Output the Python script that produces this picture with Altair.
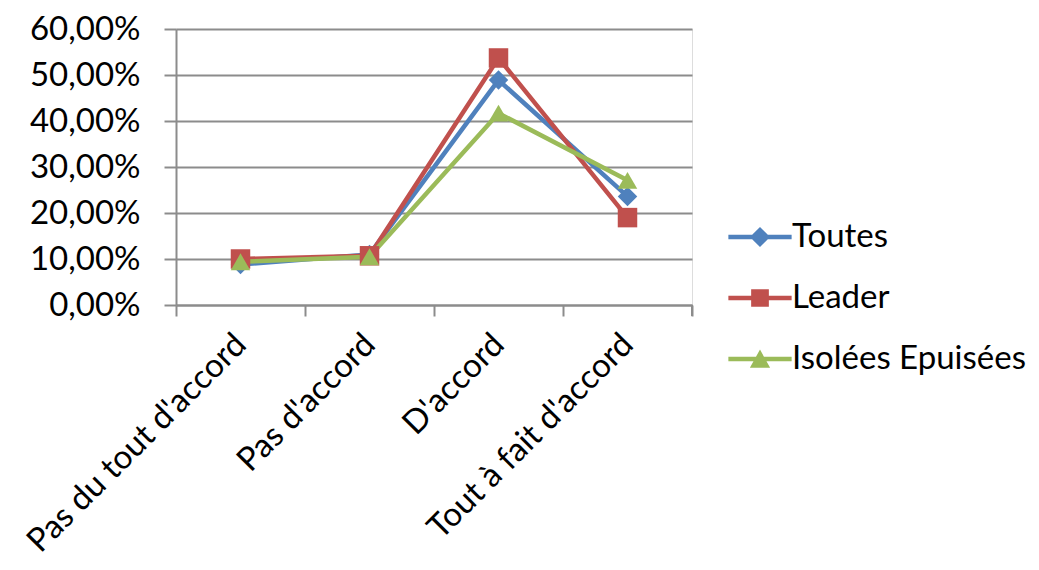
import altair as alt
import pandas as pd

categories = ["Pas du tout d'accord", "Pas d'accord", "D'accord", "Tout à fait d'accord"]
series_names = ["Toutes", "Leader", "Isolées Epuisées"]
toutes = [0.088, 0.110, 0.489, 0.236]
leader = [0.100, 0.107, 0.537, 0.190]
isolees = [0.094, 0.105, 0.417, 0.271]
colors = ["#4F81BD", "#C0504D", "#9BBB59"]
marker_shapes = ["diamond", "square", "triangle-up"]
y_ticks = [0.0, 0.1, 0.2, 0.3, 0.4, 0.5, 0.6]

rows = []
for name, vals in zip(series_names, [toutes, leader, isolees]):
    for c, v in zip(categories, vals):
        rows.append({"cat": c, "series": name, "value": v})
df = pd.DataFrame(rows)

FONT = "Lato"
FS = 33
W, H = 516, 276

color_scale = alt.Scale(domain=series_names, range=colors)

x_enc = alt.X("cat:N", sort=categories, title=None,
              scale=alt.Scale(paddingInner=0, paddingOuter=0),
              axis=alt.Axis(labelAngle=-45, labelAlign="right", labelBaseline="middle",
                            labelFont=FONT, labelFontSize=33, labelColor="#000000",
                            labelPadding=23, labelLimit=500,
                            tickBand="extent", tickSize=11, tickColor="#8c8c8c", tickWidth=2,
                            domainColor="#8c8c8c", domainWidth=2, grid=False))
y_enc = alt.Y("value:Q", title=None,
              scale=alt.Scale(domain=[0, 0.6], nice=False),
              axis=alt.Axis(values=y_ticks,
                            labelExpr="replace(format(datum.value, '.2%'), '.', ',')",
                            labelFont=FONT, labelFontSize=FS, labelColor="#000000",
                            labelPadding=24, tickSize=12, tickColor="#8c8c8c", tickWidth=2,
                            domainColor="#8c8c8c", domainWidth=2,
                            grid=True, gridColor="#8c8c8c", gridWidth=2))

line_bar = "M-1,-0.075H1V0.075H-1Z "
legend_paths = [
    line_bar + "M0,-0.32L0.32,0L0,0.32L-0.32,0Z",
    line_bar + "M-0.28,-0.28H0.28V0.28H-0.28Z",
    line_bar + "M0,-0.3L0.32,0.28H-0.32Z",
]

leg = alt.Legend(title=None, orient="none", legendX=552, legendY=176,
                 labelFont=FONT, labelFontSize=33, labelColor="#000000",
                 labelLimit=400, symbolSize=4000, rowPadding=12, labelOffset=0,
                 symbolStrokeWidth=0, symbolType="circle")

base = alt.Chart(df)

lines = base.mark_line(strokeWidth=4.5).encode(
    x=x_enc, y=y_enc,
    color=alt.Color("series:N", scale=color_scale, legend=leg),
    detail="series:N",
)

point_layers = []
for name, shp in zip(series_names, marker_shapes):
    point_layers.append(
        base.transform_filter(alt.datum.series == name)
        .mark_point(filled=True, opacity=1, size=380, shape=shp)
        .encode(
            x=alt.X("cat:N", sort=categories),
            y="value:Q",
            color=alt.Color("series:N", scale=color_scale, legend=leg),
        )
    )

legend_layer = base.mark_point(filled=True, opacity=1).encode(
    x=alt.X("cat:N", sort=categories),
    y="value:Q",
    color=alt.Color("series:N", scale=color_scale, legend=leg),
    shape=alt.Shape("series:N", scale=alt.Scale(domain=series_names, range=legend_paths),
                    legend=leg),
).transform_filter("false")

right_tick = alt.Chart(pd.DataFrame({"v": [0]})).mark_rule(color="#8c8c8c", strokeWidth=2).encode(
    x=alt.value(W), y=alt.value(H), y2=alt.value(H + 11)
)

chart = alt.layer(lines, *point_layers, legend_layer, right_tick).properties(
    width=W, height=H,
    autosize=alt.AutoSizeParams(type="none"),
    padding={"left": 168, "top": 21, "right": 339, "bottom": 257},
).configure_view(stroke=None).configure(background="white")

chart.save("out.html", embed_options={"renderer": "svg", "actions": False})
